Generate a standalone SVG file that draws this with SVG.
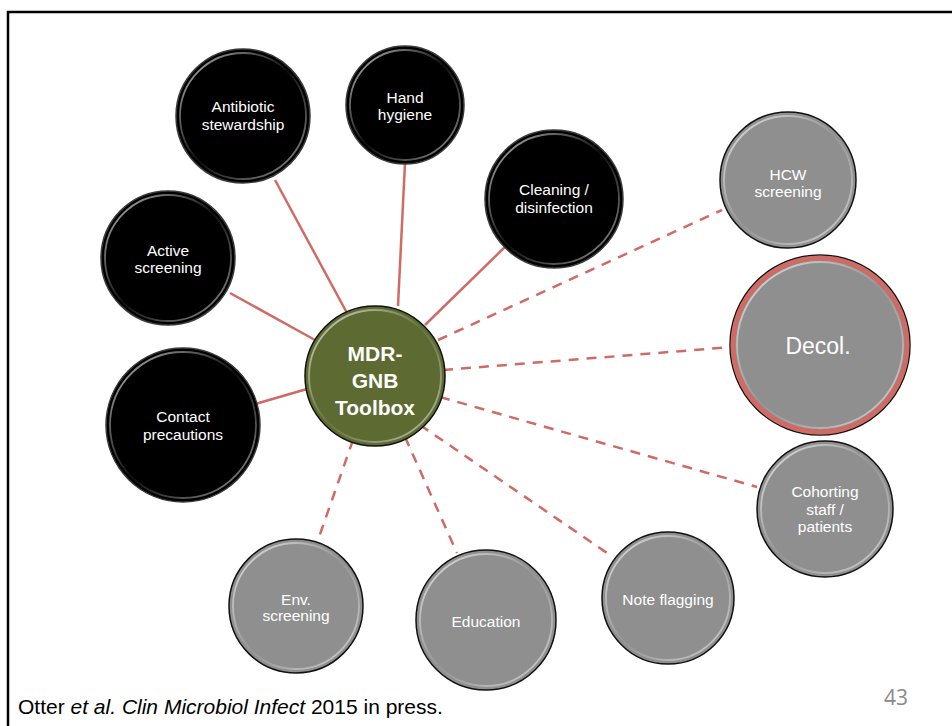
<svg xmlns="http://www.w3.org/2000/svg" width="952" height="726" viewBox="0 0 952 726">
<defs>
<linearGradient id="rim" x1="0" y1="0" x2="1" y2="1">
<stop offset="0" stop-color="#ffffff" stop-opacity="0.75"/>
<stop offset="0.5" stop-color="#ffffff" stop-opacity="0.05"/>
<stop offset="1" stop-color="#ffffff" stop-opacity="0.6"/>
</linearGradient>
</defs>
<style>
.blk{fill:#000;stroke:#3a3a3a;stroke-width:1.5}
.gry{fill:#8f8f8f;stroke:#111;stroke-width:1.5}
.ctr{fill:#5d6b33;stroke:#111;stroke-width:1.5}
.rim{fill:none;stroke:url(#rim);stroke-width:1.8}
.lbl{font-family:"Liberation Sans",Arial,sans-serif;font-size:15.5px;fill:#fff;text-anchor:middle}
.solid{stroke:#d06a64;stroke-width:2.5;fill:none}
.dash{stroke:#d06a64;stroke-width:2.5;fill:none;stroke-dasharray:10 8}
</style>
<rect x="0" y="0" width="952" height="726" fill="#fff"/>
<path d="M8 726 V12 H952" fill="none" stroke="#000" stroke-width="2.5"/>
<g id="connectors">
<line class="solid" x1="347" y1="313" x2="275" y2="180"/>
<line class="solid" x1="398" y1="306" x2="405" y2="163"/>
<line class="solid" x1="425" y1="325" x2="507" y2="245"/>
<line class="solid" x1="315" y1="340" x2="230" y2="293"/>
<line class="solid" x1="307" y1="389" x2="245" y2="407"/>
<line class="dash" x1="438" y1="340" x2="722" y2="210"/>
<line class="dash" x1="443" y1="370" x2="745" y2="346"/>
<polygon points="745,341 760,345 745,350" fill="#d06a64"/>
<line class="dash" x1="440" y1="397" x2="757" y2="487"/>
<line class="dash" x1="420" y1="425" x2="610" y2="555"/>
<line class="dash" x1="405" y1="437" x2="457" y2="553"/>
<line class="dash" x1="353" y1="440" x2="318" y2="540"/>
</g>
<g id="center">
<circle class="ctr" cx="375" cy="376" r="70"/>
<circle class="rim" cx="375" cy="376" r="66"/>
<text font-family="Liberation Sans,Arial,sans-serif" font-weight="bold" font-size="21" fill="#fff" text-anchor="middle"><tspan x="375" y="361">MDR-</tspan><tspan x="375" y="388">GNB</tspan><tspan x="375" y="415">Toolbox</tspan></text>
</g>
<g id="antibiotic">
<circle class="blk" cx="243" cy="116" r="67"/>
<circle class="rim" cx="243" cy="116" r="63"/>
<text class="lbl"><tspan x="243" y="112">Antibiotic</tspan><tspan x="243" y="130">stewardship</tspan></text>
</g>
<g id="hand">
<circle class="blk" cx="405" cy="105" r="59"/>
<circle class="rim" cx="405" cy="105" r="55"/>
<text class="lbl"><tspan x="405" y="103">Hand</tspan><tspan x="405" y="120">hygiene</tspan></text>
</g>
<g id="cleaning">
<circle class="blk" cx="554" cy="199" r="69"/>
<circle class="rim" cx="554" cy="199" r="65"/>
<text class="lbl"><tspan x="554" y="195">Cleaning /</tspan><tspan x="554" y="213">disinfection</tspan></text>
</g>
<g id="active">
<circle class="blk" cx="168" cy="258" r="67"/>
<circle class="rim" cx="168" cy="258" r="63"/>
<text class="lbl"><tspan x="168" y="256">Active</tspan><tspan x="168" y="273">screening</tspan></text>
</g>
<g id="contact">
<circle class="blk" cx="183" cy="425" r="77"/>
<circle class="rim" cx="183" cy="425" r="73"/>
<text class="lbl"><tspan x="183" y="422">Contact</tspan><tspan x="183" y="440">precautions</tspan></text>
</g>
<g id="hcw">
<circle class="gry" cx="788" cy="180" r="68"/>
<circle class="rim" cx="788" cy="180" r="64"/>
<text class="lbl"><tspan x="788" y="180">HCW</tspan><tspan x="788" y="197">screening</tspan></text>
</g>
<g id="decol">
<circle cx="820" cy="345" r="90" fill="#8f8f8f" stroke="#111" stroke-width="1.5"/>
<circle cx="820" cy="345" r="87" fill="none" stroke="#d06a64" stroke-width="5"/>
<circle class="rim" cx="820" cy="345" r="83"/>
<text class="lbl" x="818" y="354" style="font-size:23px">Decol.</text>
</g>
<g id="cohorting">
<circle class="gry" cx="825" cy="509" r="68"/>
<circle class="rim" cx="825" cy="509" r="64"/>
<text class="lbl"><tspan x="825" y="497">Cohorting</tspan><tspan x="825" y="515">staff /</tspan><tspan x="825" y="532">patients</tspan></text>
</g>
<g id="note">
<circle class="gry" cx="668" cy="598" r="66"/>
<circle class="rim" cx="668" cy="598" r="62"/>
<text class="lbl" x="668" y="605">Note flagging</text>
</g>
<g id="education">
<circle class="gry" cx="486" cy="620" r="70"/>
<circle class="rim" cx="486" cy="620" r="66"/>
<text class="lbl" x="486" y="627">Education</text>
</g>
<g id="env">
<circle class="gry" cx="296" cy="606" r="67"/>
<circle class="rim" cx="296" cy="606" r="63"/>
<text class="lbl"><tspan x="296" y="605">Env.</tspan><tspan x="296" y="621">screening</tspan></text>
</g>
<text x="18" y="714" font-family="Liberation Sans,Arial,sans-serif" font-size="21" fill="#000">Otter <tspan font-style="italic">et al. Clin Microbiol Infect</tspan> 2015 in press.</text>
<text x="908" y="705" font-family="Open Sans,Liberation Sans,sans-serif" font-size="21" fill="#8a8a8a" text-anchor="end">43</text>
</svg>
